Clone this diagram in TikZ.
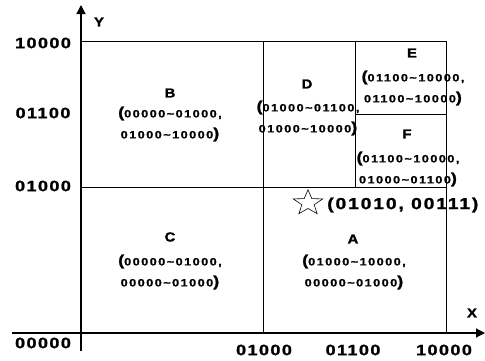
\documentclass[tikz,border=0pt]{standalone}
\usepackage{fontspec}
\setmainfont{Liberation Sans}[BoldFeatures={FakeBold=1.2}]
\usetikzlibrary{arrows.meta,shapes.geometric}

\newcommand{\lpar}{{\fontsize{15}{15}\selectfont(}}
\newcommand{\rpar}{{\fontsize{15}{15}\selectfont)}}
\newcommand{\tl}{\textasciitilde}

\begin{document}
\begin{tikzpicture}[x=1pt,y=1pt,
  partline/.style={line width=1pt},
  axisline/.style={line width=1.2pt,-{Triangle[length=9pt,width=9pt]}},
  ticklab/.style={inner sep=0pt,xscale=1.2,font=\fontsize{15}{15}\selectfont\bfseries\addfontfeature{LetterSpace=8}},
  letter/.style={inner sep=0pt,xscale=1.15,font=\fontsize{13}{13}\selectfont\bfseries},
  rangetext/.style={inner sep=0pt,align=center,xscale=1.2,font=\fontsize{10.5}{21}\selectfont\bfseries\addfontfeature{LetterSpace=12}}]
  \useasboundingbox (0,0) rectangle (485,360);

  % corners of the partition
  \coordinate (ax-s) at (81,9);
  \coordinate (ax-n) at (81,355);
  \coordinate (ax-w) at (12,27);
  \coordinate (ax-e) at (485,27);
  \coordinate (tl) at (81,319);
  \coordinate (tr) at (446,319);
  \coordinate (ml) at (81,173);
  \coordinate (mr) at (446,173);
  \coordinate (br) at (446,27);
  \coordinate (t1) at (263,319);
  \coordinate (b1) at (263,27);
  \coordinate (t2) at (355,319);
  \coordinate (m2) at (355,173);
  \coordinate (ef-w) at (355,246);
  \coordinate (ef-e) at (446,246);

  \draw[axisline] (ax-s) -- (ax-n);
  \draw[axisline] (ax-w) -- (ax-e);
  \draw[partline] (tl) -- (tr) -- (br);
  \draw[partline] (ml) -- (mr);
  \draw[partline] (t1) -- (b1);
  \draw[partline] (t2) -- (m2);
  \draw[partline] (ef-w) -- (ef-e);

  \node[letter] (ylab) at (99,338) {Y};
  \node[letter] (xlab) at (472,47) {X};

  \node[ticklab] (y4) at (43,317) {10000};
  \node[ticklab] (y3) at (43,247) {01100};
  \node[ticklab] (y2) at (43,174) {01000};
  \node[ticklab] (y1) at (43,17) {00000};
  \node[ticklab] (x2) at (264,10) {01000};
  \node[ticklab] (x3) at (353,10) {01100};
  \node[ticklab] (x4) at (444,10) {10000};

  % regions
  \node[letter] (B) at (170,267) {B};
  \node[rangetext] (B-r) at (170,236) {\lpar00000\tl01000,\\01000\tl10000\rpar};
  \node[letter] (C) at (170,123) {C};
  \node[rangetext] (C-r) at (170,88) {\lpar00000\tl01000,\\00000\tl01000\rpar};
  \node[letter] (D) at (307,276) {D};
  \node[rangetext] (D-r) at (308,242) {\lpar01000\tl01100,\\01000\tl10000\rpar};
  \node[letter] (E) at (412,307) {E};
  \node[rangetext] (E-r) at (413,272) {\lpar01100\tl10000,\\01100\tl10000\rpar};
  \node[letter] (F) at (407,226) {F};
  \node[rangetext] (F-r) at (408,191) {\lpar01100\tl10000,\\01000\tl01100\rpar};
  \node[letter] (A) at (353,121) {A};
  \node[rangetext] (A-r) at (354,88) {\lpar01000\tl10000,\\00000\tl01000\rpar};

  \node[star,star points=5,star point ratio=2.4,draw,line width=0.6pt,
    minimum size=31pt,inner sep=0pt,yscale=0.85] (pt) at (308,157) {};
  \node[ticklab,anchor=west,font=\fontsize{16}{16}\selectfont\bfseries\addfontfeature{LetterSpace=10}]
    (pt-lab) at (327,155) {(01010, 00111)};
\end{tikzpicture}
\end{document}
